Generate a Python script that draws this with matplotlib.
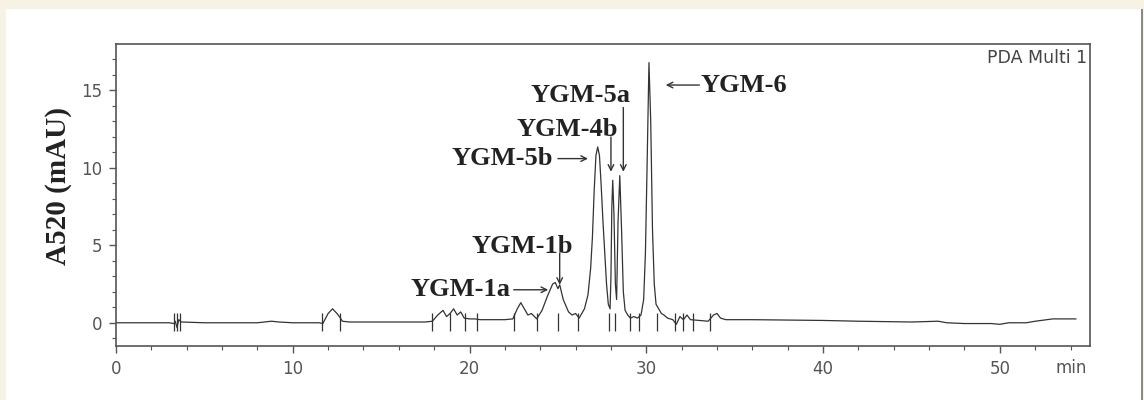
import matplotlib.pyplot as plt
from matplotlib.patches import Rectangle
import numpy as np

# chromatogram trace (time in min, A520 in mAU)
time = [0.0, 3.0, 3.3, 3.35, 3.45, 3.55, 3.7, 5.0, 8.0, 8.8, 9.2, 10.0, 11.5, 11.7,
        12.0, 12.25, 12.5, 12.7, 12.8, 13.2, 17.5, 17.9, 18.2, 18.5, 18.7, 18.9, 19.1,
        19.3, 19.5, 19.7, 20.0, 20.3, 20.6, 22.0, 22.45, 22.7, 22.9, 23.1, 23.3, 23.5,
        23.8, 24.1, 24.4, 24.7, 24.85, 25.0, 25.1, 25.3, 25.6, 25.8, 26.0, 26.2, 26.5,
        26.7, 26.85, 26.95, 27.05, 27.15, 27.25, 27.35, 27.45, 27.55, 27.65, 27.75,
        27.85, 27.95, 28.0, 28.05, 28.1, 28.17, 28.25, 28.32, 28.4, 28.5, 28.6, 28.7,
        28.8, 28.95, 29.1, 29.3, 29.5, 29.7, 29.85, 29.95, 30.05, 30.15, 30.25, 30.35,
        30.45, 30.55, 30.7, 30.85, 31.0, 31.2, 31.5, 31.7, 31.9, 32.1, 32.3, 32.5, 33.0,
        33.5, 33.8, 34.0, 34.2, 34.5, 36.0, 40.0, 42.0, 45.0, 46.5, 47.0, 48.0, 49.5,
        50.0, 50.5, 51.5, 52.0, 53.0, 54.3]
signal = [0.0, 0.0, -0.05, 0.1, -0.3, 0.2, 0.05, 0.0, 0.0, 0.1, 0.05, 0.0, 0.0, -0.05,
          0.6, 0.9, 0.6, 0.3, 0.1, 0.05, 0.05, 0.1, 0.5, 0.8, 0.4, 0.6, 0.9,
          0.5, 0.7, 0.3, 0.25, 0.25, 0.2, 0.2, 0.25, 0.9, 1.3, 0.9, 0.5, 0.6,
          0.25, 0.8, 1.7, 2.5, 2.6, 2.2, 2.45, 1.5, 0.7, 0.5, 0.6, 0.3, 0.9,
          1.8, 3.5, 5.5, 8.5, 10.8, 11.35, 10.8, 8.8, 6.5, 4.5, 2.5,
          1.2, 0.9, 3.0, 7.5, 9.2, 7.0, 2.5, 1.5, 6.5, 9.5, 6.0, 2.0,
          0.8, 0.5, 0.3, 0.4, 0.3, 0.5, 1.5, 4.5, 10.5, 16.8, 13.0, 6.0,
          2.5, 1.2, 0.9, 0.6, 0.5, 0.3, 0.2, -0.1, 0.4, 0.2, 0.5, 0.2, 0.15,
          0.1, 0.5, 0.6, 0.3, 0.2, 0.2, 0.15, 0.1, 0.05, 0.1, 0.0, -0.05, -0.05,
          -0.1, 0.0, 0.0, 0.1, 0.25, 0.25]

# integration marks on the baseline
marks = [3.3, 3.45, 3.6, 11.65, 12.7, 17.9, 18.9, 19.75, 20.4, 22.5, 23.8, 25.0,
         26.15, 27.9, 28.25, 29.05, 29.6, 30.6, 31.6, 32.1, 32.65, 33.6]

# peak labels: text, text position, arrow tail, arrow head, text alignment
labels = ['YGM-1a', 'YGM-1b', 'YGM-5b', 'YGM-4b', 'YGM-5a', 'YGM-6']
label_pos = [(22.3, 2.13), (23.0, 4.9), (24.7, 10.6), (25.5, 12.45), (26.25, 14.7), (33.05, 15.35)]
label_ha = ['right', 'center', 'right', 'center', 'center', 'left']
arrow_from = [(22.5, 2.13), (25.1, 4.5), (25.0, 10.6), (28.0, 12.0), (28.7, 13.9), (33.0, 15.35)]
arrow_to = [(24.45, 2.13), (25.1, 2.45), (26.7, 10.6), (28.0, 9.75), (28.7, 9.75), (31.1, 15.35)]

fig = plt.figure(figsize=(11.44, 4.0), dpi=100)
fig.patch.set_facecolor('#f6f3e4')
# white panel and its grey right edge
fig.add_artist(Rectangle((6 / 1144, 0), 1135 / 1144, 1 - 9 / 400, transform=fig.transFigure,
                         facecolor='white', edgecolor='none', zorder=-10))
fig.add_artist(Rectangle((1141 / 1144, 0), 2 / 1144, 1 - 9 / 400, transform=fig.transFigure,
                         facecolor='#8a8a86', edgecolor='none', zorder=-10))

ax = fig.add_axes([116 / 1144, 54 / 400, 974 / 1144, 302 / 400])
ax.set_zorder(5)
ax.set_facecolor('white')
ax.plot(time, signal, color='#333333', linewidth=0.9)
ax.vlines(marks, -0.5, 0.6, color='#333333', linewidth=0.9)

ax.set_xlim(0, 55.1)
ax.set_ylim(-1.5, 18)
ax.set_xticks([0, 10, 20, 30, 40, 50])
ax.set_xticks(np.arange(0, 56, 2), minor=True)
ax.set_yticks([0, 5, 10, 15])
ax.set_yticks(np.arange(-1, 18, 1), minor=True)
ax.tick_params(which='major', direction='out', length=5, width=1, color='#555555',
               labelsize=12, labelcolor='#555555', pad=5)
ax.tick_params(which='minor', direction='out', length=3, width=0.8, color='#555555')
for s in ax.spines.values():
    s.set_color('#555555')
    s.set_linewidth(1.2)

for i in range(len(labels)):
    ax.text(label_pos[i][0], label_pos[i][1], labels[i], ha=label_ha[i], va='center',
            fontsize=19, fontweight='bold', family='Liberation Serif', color='#222222')
    ax.annotate('', xy=arrow_to[i], xytext=arrow_from[i],
                arrowprops=dict(arrowstyle='->', color='#333333', lw=1.0, shrinkA=0, shrinkB=0))

ax.text(0.997, 0.985, 'PDA Multi 1', transform=ax.transAxes, ha='right', va='top',
        fontsize=12.5, color='#444444')
fig.text(1071 / 1144, 1 - 368 / 400, 'min', ha='center', va='center', fontsize=12, color='#555555')
fig.text(58 / 1144, 1 - 186 / 400, 'A520 (mAU)', rotation=90, ha='center', va='center',
         fontsize=21, fontweight='bold', family='Liberation Serif', color='#222222')

plt.savefig('out.png', dpi=100, facecolor=fig.get_facecolor())
